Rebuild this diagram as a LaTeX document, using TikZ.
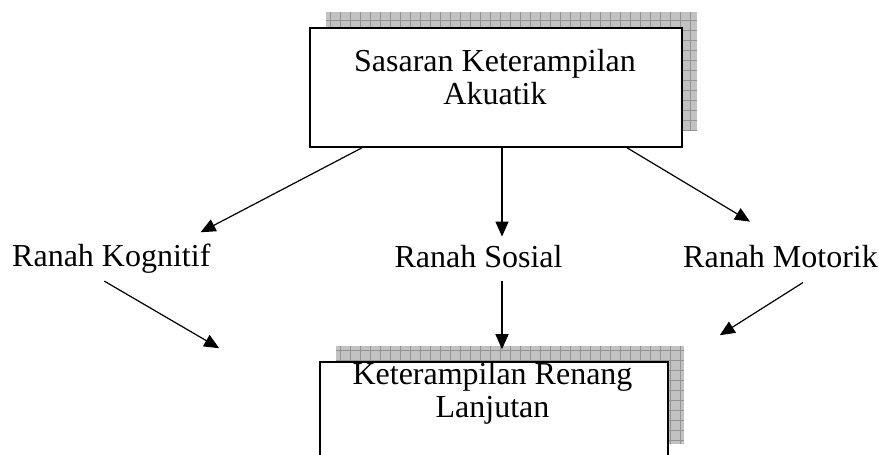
\documentclass[tikz,border=0pt]{standalone}
\usepackage{fontspec}
\setmainfont{Liberation Serif}
\usetikzlibrary{arrows.meta}

\begin{document}
\begin{tikzpicture}[x=1pt,y=-1pt,
	panah/.style={-{Triangle[length=15pt,width=13pt]},line width=1.2pt},
	kotak/.style={draw,line width=1.6pt,fill=white,inner sep=0pt},
	teks/.style={font=\fontsize{32}{33}\selectfont,align=center,inner sep=0pt},
	bayang/.style={fill=black!24}]
	\clip (0,0) rectangle (879,455);
	% Bayangan kotak
	\fill[bayang] (326,12) rectangle (697,131);
	\draw[black!42,line width=0.6pt,step=10pt] (326,12) grid (697,131);
	\fill[bayang] (336,346) rectangle (684,444);
	\draw[black!42,line width=0.6pt,step=10pt] (336,346) grid (684,444);
	% Kotak
	\node[kotak,minimum width=372pt,minimum height=119pt] (sasaran) at (496,87.5) {};
	\node[teks] (sasaranTeks) at (495,77.5) {Sasaran Keterampilan\\Akuatik};
	\node[kotak,minimum width=348pt,minimum height=98pt] (renang) at (494,411) {};
	\node[teks] (renangTeks) at (492.5,393.5) {Keterampilan Renang\\Lanjutan};
	% Ranah
	\node[teks,anchor=base west] (kognitif) at (12,266) {Ranah Kognitif};
	\node[teks,anchor=base] (sosial) at (478.5,267) {Ranah Sosial};
	\node[teks,anchor=base west] (motorik) at (683,267) {Ranah Motorik};
	% Panah
	\draw[panah] ([xshift=-134pt]sasaran.south) -- ([xshift=-10pt,yshift=11pt]kognitif.north east);
	\draw[panah] ([xshift=6pt]sasaran.south) -- ([xshift=23.5pt,yshift=8pt]sosial.north);
	\draw[panah] ([xshift=131pt]sasaran.south) -- ([xshift=-30.5pt,yshift=23pt]motorik.north);
	\draw[panah] ([xshift=-7pt,yshift=-8pt]kognitif.south) -- ([xshift=-100pt,yshift=13pt]renang.north west);
	\draw[panah] ([xshift=23.5pt,yshift=-13pt]sosial.south) -- ([xshift=8pt,yshift=12pt]renang.north);
	\draw[panah] ([xshift=22.5pt,yshift=-15pt]motorik.south) -- ([xshift=51pt,yshift=26pt]renang.north east);
\end{tikzpicture}
\end{document}
